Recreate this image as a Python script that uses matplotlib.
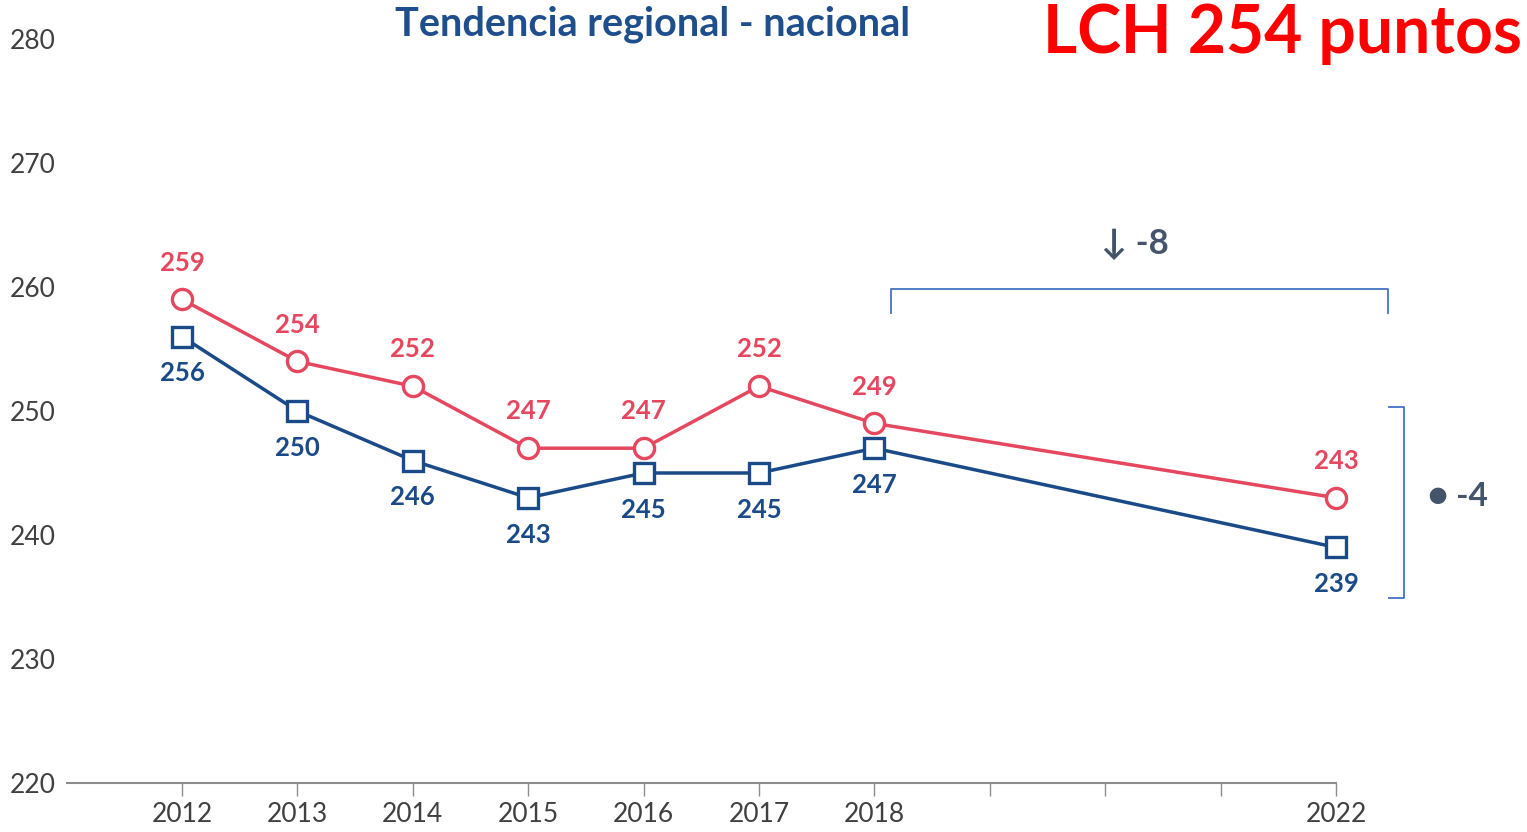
"""Tendencia regional - nacional: puntajes por año."""

import matplotlib
matplotlib.use('Agg')
import matplotlib.pyplot as plt

plt.rcParams['font.family'] = ['Lato', 'DejaVu Sans']

# Datos
years = [2012, 2013, 2014, 2015, 2016, 2017, 2018, 2022]
nacional = [259, 254, 252, 247, 247, 252, 249, 243]
regional = [256, 250, 246, 243, 245, 245, 247, 239]
tick_years = list(range(2012, 2023))
tick_labels = ['2012', '2013', '2014', '2015', '2016', '2017', '2018', '', '', '', '2022']
y_ticks = [220, 230, 240, 250, 260, 270, 280]

red = '#E5475F'
blue = '#1A4A87'
slate = '#44546A'
bracket_col = '#4472C4'

W, H = 1527, 832
fig = plt.figure(figsize=(W / 100, H / 100), dpi=100)
ax = fig.add_axes([67 / W, (H - 783) / H, (1336 - 67) / W, (783 - 39) / H])

ax.plot(years, nacional, color=red, lw=2.5, marker='o', ms=14.5,
        mfc='white', mec=red, mew=2.4, zorder=3, clip_on=False)
ax.plot(years, regional, color=blue, lw=2.5, marker='s', ms=15,
        mfc='white', mec=blue, mew=2.4, zorder=4, clip_on=False)

for x, v in zip(years, nacional):
    ax.annotate(str(v), (x, v), xytext=(0, 26.5), textcoords='offset points',
                ha='center', va='center', fontsize=18.5, fontweight='bold', color=red)
for x, v in zip(years, regional):
    ax.annotate(str(v), (x, v), xytext=(0, -26.5), textcoords='offset points',
                ha='center', va='center', fontsize=18.5, fontweight='bold', color=blue)

x0 = 2012 - (182 - 67) / 115.4
ax.set_xlim(x0, 2022)
ax.set_ylim(220, 280)
ax.set_xticks(tick_years)
ax.set_xticklabels(tick_labels)
ax.set_yticks(y_ticks)

for s in ['top', 'right', 'left']:
    ax.spines[s].set_visible(False)
ax.spines['bottom'].set_color('#8C8C8C')
ax.spines['bottom'].set_linewidth(1.5)
ax.tick_params(axis='x', direction='out', length=9, width=1, color='#8C8C8C',
               labelsize=19, labelcolor='#404040', pad=5)
ax.tick_params(axis='y', length=0, labelsize=19, labelcolor='#404040', pad=8)

# Corchetes de variación
bk = dict(color=bracket_col, lw=1.3, clip_on=False, zorder=2)
ax.plot([2018.14, 2018.14, 2022.45, 2022.45], [257.9, 259.85, 259.85, 257.9], **bk)
ax.plot([2022.46, 2022.59, 2022.59, 2022.46], [250.3, 250.3, 234.9, 234.9], **bk)

ax.text(2020.26, 263.5, '↓ -8', ha='center', va='center', fontsize=25,
        fontweight='bold', color=slate)
ax.text(2023.06, 243.1, '● -4', ha='center', va='center', fontsize=24,
        fontweight='bold', color=slate)

fig.text(653 / W, 1 - 24 / H, 'Tendencia regional - nacional', ha='center',
         va='center', fontsize=28.5, fontweight='bold', color='#1F4E8C')
fig.text(1522 / W, 1 - 34 / H, 'LCH 254 puntos', ha='right', va='center',
         fontsize=47.5, fontweight='bold', color='#FF0000')

fig.savefig('out.png', dpi=100)
